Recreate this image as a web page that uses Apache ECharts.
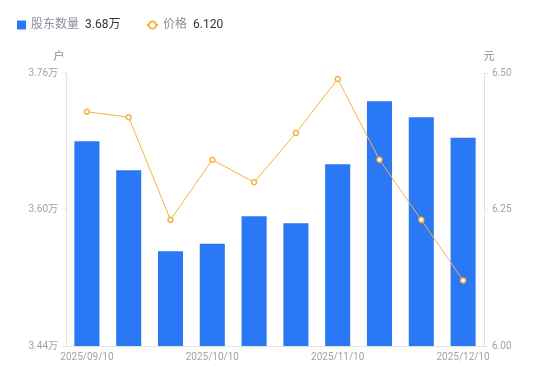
<!DOCTYPE html>
<html><head><meta charset="utf-8">
<script src="https://cdn.jsdelivr.net/npm/echarts@6/dist/echarts.min.js"></script>
<style>html,body{margin:0;padding:0;background:#fff}#c{width:550px;height:381px}</style>
</head><body><div id="c"></div>
<script>
const categories = ['2025/09/10','2025/09/20','2025/09/30','2025/10/10','2025/10/20','2025/10/31','2025/11/10','2025/11/20','2025/11/30','2025/12/10'];
const holders = [3.680, 3.646, 3.551, 3.560, 3.592, 3.584, 3.653, 3.727, 3.708, 3.684];
const prices = [6.429, 6.419, 6.231, 6.341, 6.300, 6.390, 6.489, 6.341, 6.231, 6.120];
const leftTicks = [3.44, 3.60, 3.76];
const rightTicks = [6.00, 6.25, 6.50];

const chart = echarts.init(document.getElementById('c'));
const font = 'Roboto, "Noto Sans CJK SC", sans-serif';
const lastH = holders[holders.length-1].toFixed(2) + '万';
const lastP = prices[prices.length-1].toFixed(3);
const legendText = {
  rich: {
    a: {color: '#8a8f99', fontSize: 12, fontFamily: font, padding: [0, 6, 0, 0]},
    b: {color: '#333', fontSize: 12, fontFamily: font}
  }
};
const fmt = function(n){ return '{a|' + n + '}{b|' + (n === '股东数量' ? lastH : lastP) + '}'; };
chart.setOption({
  animation: false,
  textStyle: {fontFamily: font},
  legend: [
    {left: 12, top: 14, itemWidth: 9, itemHeight: 9, itemGap: 6, data: [{name: '股东数量', icon: 'rect'}], formatter: fmt, textStyle: legendText},
    {left: 141, top: 14, itemWidth: 11, itemHeight: 9, data: ['价格'], formatter: fmt, textStyle: legendText}
  ],
  grid: {left: 66, right: 66, top: 73, bottom: 35},
  xAxis: {
    type: 'category', data: categories,
    axisLine: {lineStyle: {color: '#e3e3e3'}},
    axisTick: {show: false},
    axisLabel: {color: '#a0a3ab', fontSize: 10, interval: 2, margin: 6}
  },
  yAxis: [
    {
      type: 'value', name: '户', min: leftTicks[0], max: leftTicks[2], interval: 0.16,
      nameTextStyle: {color: '#8a8f99', fontSize: 11, padding: [0, 0, 0, -14]}, nameGap: 10,
      axisLine: {show: true, lineStyle: {color: '#e3e3e3'}},
      axisTick: {show: true, length: 4, lineStyle: {color: '#e3e3e3'}},
      splitLine: {show: false},
      axisLabel: {color: '#a0a3ab', fontSize: 10, margin: 8, formatter: v => v.toFixed(2) + '万'}
    },
    {
      type: 'value', name: '元', min: rightTicks[0], max: rightTicks[2], interval: 0.25,
      nameTextStyle: {color: '#8a8f99', fontSize: 11, padding: [0, -10, 0, 0]}, nameGap: 10,
      axisLine: {show: true, lineStyle: {color: '#e3e3e3'}},
      axisTick: {show: true, length: 4, lineStyle: {color: '#e3e3e3'}},
      splitLine: {show: false},
      axisLabel: {color: '#a0a3ab', fontSize: 10, margin: 8, formatter: v => v.toFixed(2)}
    }
  ],
  series: [
    {name: '股东数量', type: 'bar', data: holders, barWidth: '60%', itemStyle: {color: '#2a78f5'}},
    {name: '价格', type: 'line', yAxisIndex: 1, data: prices, symbol: 'circle', symbolSize: 5,
     lineStyle: {color: '#f7b33f', width: 1}, itemStyle: {color: '#fff', borderColor: '#f7b33f', borderWidth: 1.5}}
  ]
});
</script></body></html>
